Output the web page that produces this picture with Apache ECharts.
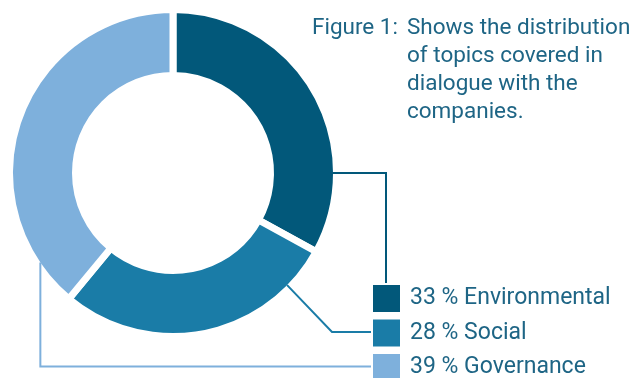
<!DOCTYPE html>
<html><head><meta charset="utf-8">
<script src="https://cdn.jsdelivr.net/npm/echarts@6/dist/echarts.min.js"></script>
<style>html,body{margin:0;padding:0;background:#fff}#c{width:643px;height:378px}</style>
</head><body><div id="c"></div>
<script>
var categories = ['Environmental', 'Social', 'Governance'];
var values = [33, 28, 39];
var colors = ['#02587A', '#1A7CA7', '#7EB0DC'];
var titleLead = 'Figure 1:';
var titleBody = 'Shows the distribution\nof topics covered in\ndialogue with the\ncompanies.';

var cx = 173, cy = 173, R = 160, r = 101, gap = 7;
var textColor = '#1E6585';
var font = 'Roboto';
var titleSize = 22.5, legendSize = 23;
function edge(deg) { var a = deg * Math.PI / 180; return [cx + R * Math.cos(a), cy - R * Math.sin(a)]; }
var sqX = 371, sqTop = 283, sqSize = 29, sqGap = 5.5;
function sqY(i) { return sqTop + i * (sqSize + sqGap); }
function sqMid(i) { return sqY(i) + sqSize / 2; }
var lineStartAngles = [0, -44.5, -146];
function leaderPoints(i) {
  var s = edge(lineStartAngles[i]);
  if (i === 0) return [s, [386, s[1]], [386, sqTop]];
  if (i === 1) return [s, [332, sqMid(1)], [sqX, sqMid(1)]];
  return [s, [s[0], sqMid(2)], [sqX, sqMid(2)]];
}

var chart = echarts.init(document.getElementById('c'), null, {renderer: 'canvas'});
chart.setOption({
  animation: false,
  backgroundColor: '#fff',
  color: colors,
  title: [
    {text: titleLead, left: 312, top: 14, padding: 0, textStyle: {fontFamily: font, fontSize: titleSize, fontWeight: 'normal', color: textColor, lineHeight: 28}},
    {text: titleBody, left: 407, top: 14, padding: 0, textStyle: {fontFamily: font, fontSize: titleSize, fontWeight: 'normal', color: textColor, lineHeight: 28}}
  ],
  legend: categories.map(function (c, i) {
    return {
      orient: 'vertical', left: sqX, top: sqY(i), padding: 0,
      itemWidth: sqSize, itemHeight: sqSize, icon: 'rect',
      selectedMode: false,
      data: [c],
      formatter: function (name) { return values[categories.indexOf(name)] + ' % ' + name; },
      textStyle: {fontFamily: font, fontSize: legendSize, color: textColor, padding: [0, 0, 0, 4]}
    };
  }),
  graphic: categories.map(function (c, i) {
    return {type: 'polyline', z: 100, silent: true, shape: {points: leaderPoints(i)},
      style: {stroke: colors[i], lineWidth: 2, fill: null}};
  }),
  series: [{
    type: 'pie',
    center: [cx, cy],
    radius: [r - gap / 2, R + gap / 2],
    startAngle: 90,
    clockwise: true,
    data: categories.map(function (c, i) { return {name: c, value: values[i]}; }),
    itemStyle: {borderColor: '#fff', borderWidth: gap},
    label: {show: false},
    labelLine: {show: false},
    emphasis: {disabled: true}
  }]
});
</script></body></html>
